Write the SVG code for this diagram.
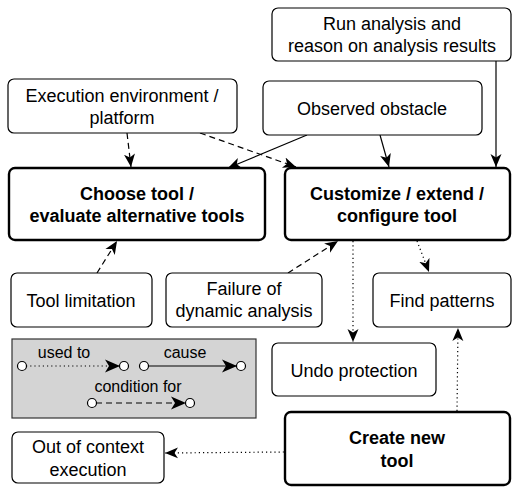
<svg xmlns="http://www.w3.org/2000/svg" width="512" height="487" viewBox="0 0 512 487">
<style>
.box{fill:#fff;stroke:#000;stroke-width:1.2}
.main{fill:#fff;stroke:#000;stroke-width:2.4}
.t{font-family:"Liberation Sans",Arial,sans-serif;font-size:18px;fill:#000;text-anchor:middle}
.b{font-weight:bold}
.l{font-family:"Liberation Sans",Arial,sans-serif;font-size:16px;fill:#000;text-anchor:middle}
.c{fill:none;stroke:#000;stroke-width:1.2}
.dash{stroke-dasharray:6 4}
.dot{stroke-dasharray:1.2 3}
.pt{fill:#fff;stroke:#000;stroke-width:1.2}
</style>
<defs>
<marker id="a" markerUnits="userSpaceOnUse" markerWidth="16" markerHeight="14" viewBox="0 0 16 14" refX="13" refY="6" orient="auto">
<path d="M0,0.5 L13,6 L0,11.5 L3.5,6 z" fill="#000"/>
</marker>
<marker id="al" markerUnits="userSpaceOnUse" markerWidth="18" markerHeight="14" viewBox="0 0 18 14" refX="15" refY="7" orient="auto">
<path d="M0,0.5 L15,7 L0,13.5 L4,7 z" fill="#000"/>
</marker>
</defs>
<g id="legend">
<rect x="12" y="339" width="244" height="79" fill="#d4d4d4" stroke="#333" stroke-width="1.2"/>
<text class="l" x="64" y="358">used to</text>
<text class="l" x="185" y="358">cause</text>
<text class="l" x="138" y="392">condition for</text>
<line class="c dot" x1="26" y1="366" x2="120" y2="366" marker-end="url(#al)"/>
<line class="c" x1="148" y1="366" x2="237" y2="366" marker-end="url(#al)"/>
<line class="c dash" x1="96" y1="403" x2="186" y2="403" marker-end="url(#al)"/>
<circle class="pt" cx="22" cy="366" r="4.5"/>
<circle class="pt" cx="124" cy="366" r="4.5"/>
<circle class="pt" cx="144" cy="366" r="4.5"/>
<circle class="pt" cx="241" cy="366" r="4.5"/>
<circle class="pt" cx="92" cy="403" r="4.5"/>
<circle class="pt" cx="190" cy="403" r="4.5"/>
</g>
<g id="connectors">
<line class="c dash" x1="127" y1="133" x2="131" y2="167" marker-end="url(#a)"/>
<line class="c dash" x1="200" y1="133" x2="296" y2="167" marker-end="url(#a)"/>
<line class="c" x1="307" y1="135" x2="228" y2="168" marker-end="url(#a)"/>
<line class="c" x1="380" y1="135" x2="389" y2="167" marker-end="url(#a)"/>
<line class="c" x1="496" y1="61" x2="496" y2="167" marker-end="url(#a)"/>
<line class="c dash" x1="97" y1="273" x2="117" y2="241" marker-end="url(#a)"/>
<line class="c dash" x1="288" y1="273" x2="338" y2="241" marker-end="url(#a)"/>
<line class="c dot" x1="353" y1="241" x2="353" y2="342" marker-end="url(#a)"/>
<line class="c dot" x1="417" y1="241" x2="429" y2="272" marker-end="url(#a)"/>
<line class="c dot" x1="457" y1="411" x2="458" y2="328" marker-end="url(#a)"/>
<line class="c dot" x1="284" y1="452" x2="165" y2="453" marker-end="url(#a)"/>
</g>
<g id="run">
<rect class="box" x="272" y="8" width="239" height="53" rx="6"/>
<text class="t" x="392" y="30">Run analysis and</text>
<text class="t" x="392" y="52">reason on analysis results</text>
</g>
<g id="obstacle">
<rect class="box" x="263" y="81" width="219" height="54" rx="6"/>
<text class="t" x="372" y="115">Observed obstacle</text>
</g>
<g id="env">
<rect class="box" x="8" y="79" width="229" height="54" rx="6"/>
<text class="t" x="122" y="102">Execution environment /</text>
<text class="t" x="122" y="124">platform</text>
</g>
<g id="choose">
<rect class="main" x="9" y="168" width="256" height="72" rx="6"/>
<text class="t b" x="137" y="200">Choose tool /</text>
<text class="t b" x="137" y="222">evaluate alternative tools</text>
</g>
<g id="customize">
<rect class="main" x="285" y="168" width="225" height="72" rx="6"/>
<text class="t b" x="397" y="200">Customize / extend /</text>
<text class="t b" x="397" y="222">configure tool</text>
</g>
<g id="limitation">
<rect class="box" x="11" y="273" width="141" height="54" rx="6"/>
<text class="t" x="81" y="307">Tool limitation</text>
</g>
<g id="failure">
<rect class="box" x="166" y="273" width="156" height="54" rx="6"/>
<text class="t" x="244" y="295">Failure of</text>
<text class="t" x="244" y="317">dynamic analysis</text>
</g>
<g id="patterns">
<rect class="box" x="373" y="273" width="138" height="54" rx="6"/>
<text class="t" x="442" y="307">Find patterns</text>
</g>
<g id="undo">
<rect class="box" x="272" y="343" width="164" height="53" rx="6"/>
<text class="t" x="354" y="377">Undo protection</text>
</g>
<g id="create">
<rect class="main" x="285" y="412" width="225" height="73" rx="6"/>
<text class="t b" x="397" y="444">Create new</text>
<text class="t b" x="397" y="467">tool</text>
</g>
<g id="outofcontext">
<rect class="box" x="12" y="432" width="152" height="51" rx="6"/>
<text class="t" x="88" y="453">Out of context</text>
<text class="t" x="88" y="476">execution</text>
</g>
</svg>
